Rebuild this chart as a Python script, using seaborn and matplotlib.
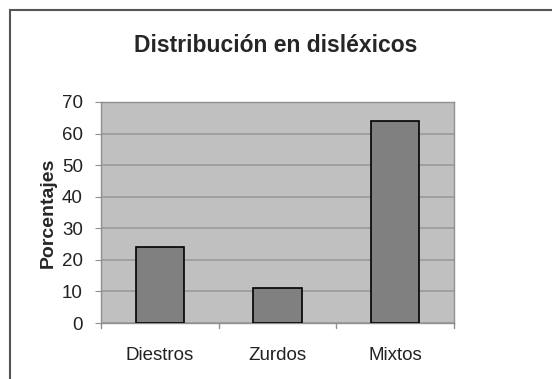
import pandas as pd
import seaborn as sns
import matplotlib.pyplot as plt
from matplotlib.patches import Rectangle

grupos = ["Diestros", "Zurdos", "Mixtos"]
porcentajes = [24, 11, 64]
yticks = [0, 10, 20, 30, 40, 50, 60, 70]


def grafico():
    df = pd.DataFrame({"grupo": grupos, "pct": porcentajes})

    sns.set_style("white")
    plt.rcParams['font.family'] = ['Liberation Sans', 'DejaVu Sans']

    fig = plt.figure(figsize=(5.52, 3.79), dpi=100)
    W, H = 552, 379
    ax = fig.add_axes([101 / W, 1 - 323 / H, (454 - 101) / W, (323 - 102) / H])

    # marco exterior del grafico
    fig.patches.append(Rectangle((10 / W, -0.05), 1.1, 1 - 10 / H + 0.05,
                                 transform=fig.transFigure, fill=False,
                                 edgecolor='#555555', linewidth=1.5))

    sns.barplot(x="grupo", y="pct", data=df, color='#808080', saturation=1,
                edgecolor='black', linewidth=1.2, width=0.41, ax=ax, zorder=3)

    ax.set_facecolor('#c0c0c0')
    ax.set_ylim(0, 70)
    ax.set_xlim(-0.5, 2.5)
    ax.set_yticks(yticks)
    ax.yaxis.grid(True, color='#9a9a9a', linewidth=1.2, zorder=0)
    ax.set_axisbelow(True)
    for s in ax.spines.values():
        s.set_color('#909090')
        s.set_linewidth(1)
    ax.tick_params(axis='both', labelsize=13.5, colors='#222222', length=4,
                   color='#909090', left=True, bottom=False)
    ax.tick_params(axis='y', pad=9)
    ax.tick_params(axis='x', pad=13)
    ax.set_xlabel("")
    ax.set_ylabel("Porcentajes", fontsize=14, fontweight='bold', labelpad=4)
    for x in [-0.5, 0.5, 1.5, 2.5]:
        ax.plot([x, x], [0, -1.5], color='#909090', lw=1, clip_on=False)

    fig.text(0.5, 1 - 45 / H, "Distribución en disléxicos", ha='center',
             va='center', fontsize=16.5, fontweight='bold')

    fig.savefig("out.png", dpi=100, facecolor='white')


def main():
    grafico()


if (__name__ == '__main__'):
    main()
